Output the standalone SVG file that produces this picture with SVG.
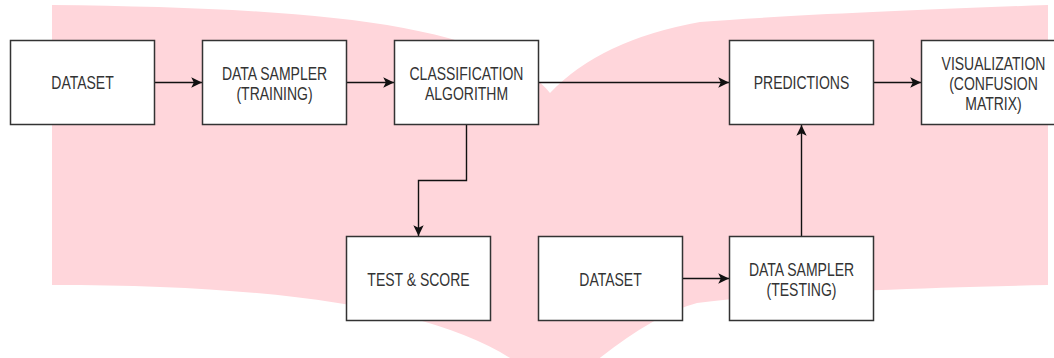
<svg xmlns="http://www.w3.org/2000/svg" width="1054" height="358" viewBox="0 0 1054 358">
  <defs>
    <style>
      .box { fill: #ffffff; stroke: #333333; stroke-width: 1.5; }
      .lbl { font-family: "Liberation Sans", Arial, Helvetica, sans-serif; font-size: 17.5px; fill: #333333; text-anchor: middle; }
      .edge { fill: none; stroke: #111111; stroke-width: 1.4; marker-end: url(#arrow); }
    </style>
    <marker id="arrow" markerUnits="userSpaceOnUse" markerWidth="14" markerHeight="14" viewBox="-12 -6 13 12" refX="0" refY="0" orient="auto">
      <path d="M0,0 L-10,-4.8 L-7.6,0 L-10,4.8 Z" fill="#111111"/>
    </marker>
  </defs>

  <!-- background ribbon shape -->
  <path id="backdrop" fill="#ffd6db"
        d="M52,5 C300,8 490,20 550,93 Q600,40 700,22 Q800,14 1048,5 L1048,285 Q800,290 697,303 Q640,318 553,398 C500,320 330,285 52,285 Z"/>

  <!-- connectors -->
  <g id="connectors">
    <path class="edge" d="M154.5,82.5 H202"/>
    <path class="edge" d="M346.5,82.5 H394"/>
    <path class="edge" d="M538.5,82.5 H729"/>
    <path class="edge" d="M873.5,82.5 H921"/>
    <path class="edge" d="M466.5,124.5 V180.5 H418.5 V236"/>
    <path class="edge" d="M682.5,278.5 H729"/>
    <path class="edge" d="M801.5,236.5 V125"/>
  </g>

  <g id="dataset-train">
    <rect class="box" x="10.5" y="40.5" width="144" height="84"/>
    <text class="lbl" transform="translate(82.5,89) scale(0.8,1)">DATASET</text>
  </g>

  <g id="sampler-train">
    <rect class="box" x="202.5" y="40.5" width="144" height="84"/>
    <text class="lbl" transform="translate(274.5,80) scale(0.8,1)"><tspan x="0">DATA SAMPLER</tspan><tspan x="0" dy="20">(TRAINING)</tspan></text>
  </g>

  <g id="classifier">
    <rect class="box" x="394.5" y="40.5" width="144" height="84"/>
    <text class="lbl" transform="translate(466.5,80) scale(0.8,1)"><tspan x="0">CLASSIFICATION</tspan><tspan x="0" dy="20">ALGORITHM</tspan></text>
  </g>

  <g id="predictions">
    <rect class="box" x="729.5" y="40.5" width="144" height="84"/>
    <text class="lbl" transform="translate(801.5,89) scale(0.8,1)">PREDICTIONS</text>
  </g>

  <g id="visualization">
    <rect class="box" x="921.5" y="40.5" width="144" height="84"/>
    <text class="lbl" transform="translate(993.5,70) scale(0.8,1)"><tspan x="0">VISUALIZATION</tspan><tspan x="0" dy="20">(CONFUSION</tspan><tspan x="0" dy="20">MATRIX)</tspan></text>
  </g>

  <g id="test-score">
    <rect class="box" x="346.5" y="236.5" width="144" height="84"/>
    <text class="lbl" transform="translate(418.5,285.5) scale(0.8,1)">TEST &amp; SCORE</text>
  </g>

  <g id="dataset-test">
    <rect class="box" x="538.5" y="236.5" width="144" height="84"/>
    <text class="lbl" transform="translate(610.5,285.5) scale(0.8,1)">DATASET</text>
  </g>

  <g id="sampler-test">
    <rect class="box" x="729.5" y="236.5" width="144" height="84"/>
    <text class="lbl" transform="translate(801.5,276) scale(0.8,1)"><tspan x="0">DATA SAMPLER</tspan><tspan x="0" dy="20">(TESTING)</tspan></text>
  </g>
</svg>
